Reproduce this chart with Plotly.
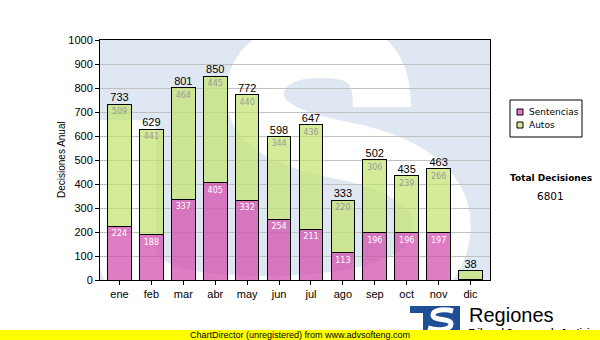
import base64
import plotly.graph_objects as go

# ---- data -------------------------------------------------------------
meses = ["ene", "feb", "mar", "abr", "may", "jun", "jul", "ago", "sep", "oct", "nov", "dic"]
sentencias = [224, 188, 337, 405, 332, 254, 211, 113, 196, 196, 197, 3]
autos = [509, 441, 464, 445, 440, 344, 436, 220, 306, 239, 266, 35]
totales = [s + a for s, a in zip(sentencias, autos)]
total_decisiones = sum(totales)

# ---- geometry helpers (pixel -> paper coordinates) --------------------
L, R, T, B = 100, 490, 40, 280


def px(x):
    return (x - L) / (R - L)


def py(y):
    return (B - y) / (B - T)


PINK = "rgba(208,70,170,0.7)"
GREEN = "rgba(194,228,108,0.7)"
ARIAL = "Liberation Sans, Arial, sans-serif"
VERDANA = "DejaVu Sans, Verdana, sans-serif"

# background artwork: pale "S" watermark behind the plot and the logo
svg = """<svg xmlns="http://www.w3.org/2000/svg" width="600" height="340" viewBox="0 0 600 340">
<defs><clipPath id="pa"><rect x="100" y="40" width="390" height="240"/></clipPath></defs>
<g clip-path="url(#pa)">
<rect x="100" y="40" width="390" height="240" fill="#dfe8f2"/>
<path d="M 382 107 C 382 60 360 49 320 49 C 275 49 255 70 255 95 C 255 125 290 140 340 150
 C 420 165 450 200 440 240 C 430 290 350 305 260 305 C 180 305 127 290 127 250 L 127 120"
 fill="none" stroke="#ffffff" stroke-width="58"/>
</g>
<rect x="410" y="306" width="22" height="7" fill="#1f4e96"/>
<rect x="423" y="306" width="37" height="26" fill="#1f4e96"/>
<path d="M 453 311 C 446 309 433 309 433 315 C 433 321 451 318 451 324 C 451 330 438 331 428 328"
 fill="none" stroke="#ffffff" stroke-width="5"/>
</svg>"""
svg_uri = "data:image/svg+xml;base64," + base64.b64encode(svg.encode()).decode()

fig = go.Figure()
fig.add_bar(
    x=meses, y=sentencias, name="Sentencias",
    marker=dict(color=PINK, line=dict(color="black", width=1)),
    text=sentencias, textposition="inside", insidetextanchor="end", textangle=0,
    textfont=dict(family=VERDANA, size=8, color="white"),
)
fig.add_bar(
    x=meses, y=autos, name="Autos",
    marker=dict(color=GREEN, line=dict(color="black", width=1)),
    text=autos, textposition="inside", insidetextanchor="end", textangle=0,
    textfont=dict(family=VERDANA, size=8, color="#9a9a9a"),
)
fig.add_scatter(
    x=meses, y=totales, mode="text", text=totales, textposition="top center",
    textfont=dict(family=ARIAL, size=11, color="black"), showlegend=False,
)

shapes = [
    # legend box and swatches
    dict(type="rect", xref="paper", yref="paper", x0=px(510), x1=px(582), y0=py(100), y1=py(137),
         line=dict(color="black", width=1), fillcolor="white"),
    dict(type="rect", xref="paper", yref="paper", x0=px(517), x1=px(523), y0=py(109), y1=py(115),
         line=dict(color="black", width=1), fillcolor=PINK),
    dict(type="rect", xref="paper", yref="paper", x0=px(517), x1=px(523), y0=py(122), y1=py(128),
         line=dict(color="black", width=1), fillcolor=GREEN),
]

annotations = [
    dict(text="Decisiones Anual", x=px(61), y=0.5, textangle=-90,
         font=dict(family=ARIAL, size=10, color="black")),
    dict(text="Sentencias", x=px(527), y=py(112), xanchor="left",
         font=dict(family=VERDANA, size=9, color="black")),
    dict(text="Autos", x=px(527), y=py(125), xanchor="left",
         font=dict(family=VERDANA, size=9, color="black")),
    dict(text="<b>Total Decisiones</b>", x=px(551), y=py(178),
         font=dict(family=VERDANA, size=9, color="black")),
    dict(text=str(total_decisiones), x=px(550), y=py(196),
         font=dict(family=VERDANA, size=10.5, color="black")),
    dict(text="Regiones", x=px(467), y=py(315), xanchor="left",
         font=dict(family=ARIAL, size=20, color="black")),
    dict(text="<b>Tribunal Supremo de Justicia</b>", x=px(467), y=py(332), xanchor="left",
         font=dict(family=ARIAL, size=9, color="black")),
    # footer band, drawn last so it covers the lower part of the subtitle
    dict(text="ChartDirector (unregistered) from www.advsofteng.com", x=px(300), y=py(335),
         width=600, height=10, bgcolor="#ffff00", borderpad=0, borderwidth=0,
         font=dict(family=ARIAL, size=9, color="black")),
]
for a in annotations:
    a.setdefault("xref", "paper")
    a.setdefault("yref", "paper")
    a.setdefault("xanchor", "center")
    a.setdefault("yanchor", "middle")
    a["showarrow"] = False

fig.update_layout(
    width=600, height=340,
    margin=dict(l=100, r=110, t=40, b=60),
    paper_bgcolor="white", plot_bgcolor="rgba(0,0,0,0)",
    barmode="stack", bargap=0.26, showlegend=False, hovermode=False,
    uniformtext=dict(minsize=8, mode="hide"),
    xaxis=dict(type="category", showline=True, mirror=True, linecolor="black", linewidth=1,
               ticks="outside", ticklen=4, tickcolor="black", showgrid=False,
               tickfont=dict(family=ARIAL, size=11, color="black")),
    yaxis=dict(range=[0, 1000], dtick=100, showline=True, mirror=True, linecolor="black",
               linewidth=1, ticks="outside", ticklen=4, tickcolor="black", zeroline=False,
               gridcolor="#c0c0c0", gridwidth=1,
               tickfont=dict(family=ARIAL, size=11, color="black")),
    shapes=shapes, annotations=annotations,
    images=[dict(source=svg_uri, xref="paper", yref="paper", x=px(0), y=py(0),
                 sizex=600 / (R - L), sizey=340 / (B - T), xanchor="left", yanchor="top",
                 sizing="stretch", layer="below")],
)

fig.write_html("out.html", config={"displayModeBar": False})
